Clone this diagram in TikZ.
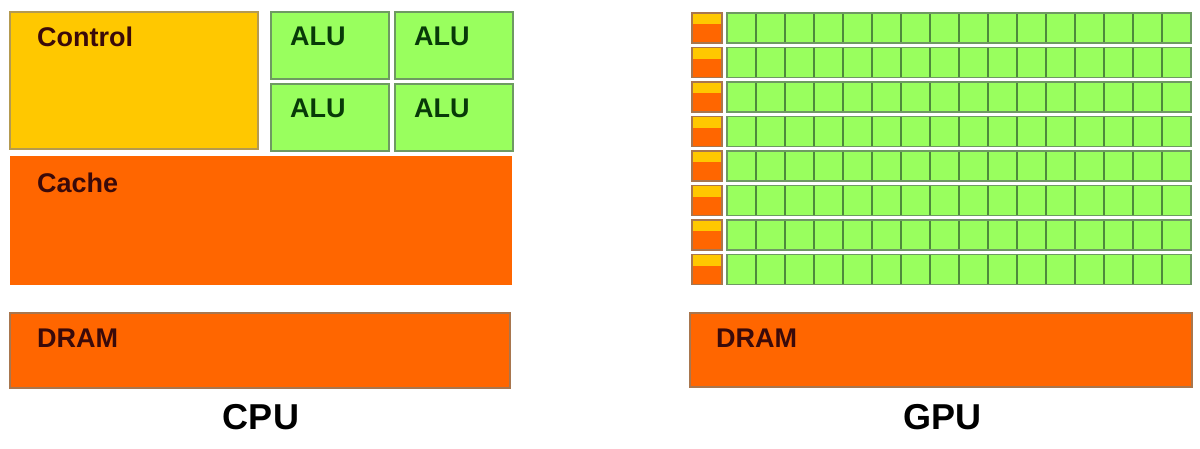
\documentclass[tikz,border=0pt]{standalone}
\usepackage{fontspec}
\setmainfont{Liberation Sans}
\usepackage{tikz}
\usetikzlibrary{positioning}

\definecolor{ctrlyellow}{HTML}{FFC800}
\definecolor{alugreen}{HTML}{99FF5E}
\definecolor{memorange}{HTML}{FF6600}
\definecolor{ctrlline}{HTML}{B49A50}
\definecolor{aluline}{HTML}{6E9A62}
\definecolor{memline}{HTML}{A8764E}
\definecolor{cellline}{HTML}{4E8A3C}
\definecolor{labbrown}{HTML}{3A0A0A}
\definecolor{labgreen}{HTML}{083A08}

\begin{document}
\begin{tikzpicture}[x=1pt,y=-1pt,
  box/.style={anchor=north west,inner sep=0pt,outer sep=0pt,line width=1.5pt},
  ctrlbox/.style={box,fill=ctrlyellow,draw=ctrlline},
  alubox/.style={box,fill=alugreen,draw=aluline,minimum width=118pt,minimum height=67pt},
  membox/.style={box,fill=memorange,draw=memline},
  cell/.style={box,fill=alugreen,draw=cellline,line width=1.2pt,minimum width=29pt,minimum height=30pt},
  ctrlsq/.style={box,fill=memorange,draw=memline,line width=1.2pt,minimum width=30pt,minimum height=30pt},
  lbl/.style={anchor=base west,inner sep=0pt,font=\fontsize{27}{30}\selectfont\bfseries},
  title/.style={anchor=base,inner sep=0pt,font=\fontsize{36}{40}\selectfont\bfseries}]
\useasboundingbox[fill=white] (0,0) rectangle (1200,448);

% CPU
\node[ctrlbox,minimum width=248pt,minimum height=137pt] (control) at (10,12) {};
\node[alubox] (alu1) at (271,12) {};
\node[alubox] (alu2) at (395,12) {};
\node[alubox] (alu3) at (271,84) {};
\node[alubox] (alu4) at (395,84) {};
\node[membox,draw=none,minimum width=502pt,minimum height=129pt] (cache) at (10,156) {};
\node[membox,minimum width=500pt,minimum height=75pt] (cpudram) at (10,313) {};

\node[lbl,text=labbrown] (controltxt) at (37,46) {Control};
\node[lbl,text=labgreen] (alu1txt) at (290,45) {ALU};
\node[lbl,text=labgreen] (alu2txt) at (414,45) {ALU};
\node[lbl,text=labgreen] (alu3txt) at (290,117) {ALU};
\node[lbl,text=labgreen] (alu4txt) at (414,117) {ALU};
\node[lbl,text=labbrown] (cachetxt) at (37,192) {Cache};
\node[lbl,text=labbrown] (cpudramtxt) at (37,347) {DRAM};
\node[title] (cpu) at (261,429) {CPU};

% GPU
\foreach \i in {0,...,7}{
  \pgfmathsetmacro\rowy{13+34.5*\i}
  \node[ctrlsq,path picture={\fill[ctrlyellow] (path picture bounding box.north west)
      rectangle ([yshift=-11pt]path picture bounding box.north east);}] (sq\i) at (692,\rowy) {};
  \foreach \j in {0,...,15}
    \node[cell] (c\i-\j) at (727+29*\j,\rowy) {};
  \draw[aluline,line width=1.5pt] (c\i-0.north west) rectangle (c\i-15.south east);
}
\node[membox,minimum width=502pt,minimum height=74pt] (gpudram) at (690,313) {};
\node[lbl,text=labbrown] (gpudramtxt) at (716,347) {DRAM};
\node[title] (gpu) at (942,429) {GPU};
\end{tikzpicture}
\end{document}
